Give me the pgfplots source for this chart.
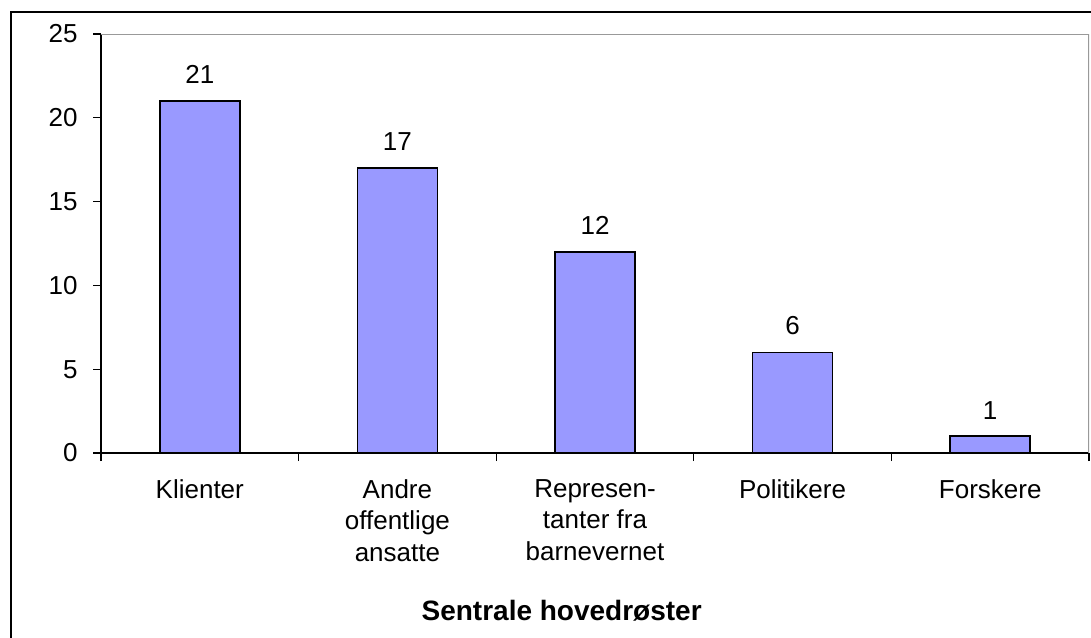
\documentclass[border=0pt]{standalone}
\usepackage{pgfplots}
\pgfplotsset{compat=1.18}
\usepackage{fontspec}
\setmainfont{Liberation Sans}
\definecolor{barfill}{HTML}{9999FF}

\begin{document}
\begin{tikzpicture}
% page is 1091 x 637 px at 0.75pt per px
\useasboundingbox (0pt,0pt) rectangle (818.25pt,477.75pt);
\draw[line width=1.2pt] (8.25pt,-5pt) -- (8.25pt,468.75pt) -- (830pt,468.75pt);
\begin{axis}[
    at={(75.75pt,138pt)},
    anchor=south west,
    scale only axis,
    width=741pt,
    height=314.25pt,
    ybar,
    bar width=60pt,
    xmin=-0.5, xmax=4.5,
    ymin=0, ymax=25,
    ytick={0,5,...,25},
    xtick={0,1,2,3,4},
    xticklabels={Klienter,{Andre\\offentlige\\ansatte},{Represen-\\tanter fra\\barnevernet},Politikere,Forskere},
    minor xtick={-0.5,0.5,...,4.5},
    major x tick style={draw=none},
    tick align=outside,
    major tick length=6pt,
    minor tick length=6pt,
    axis x line*=bottom,
    axis y line*=left,
    axis line style={line width=0.9pt, -},
    tick style={line width=0.9pt, black},
    ticklabel style={font=\fontsize{19.5}{23.5}\selectfont},
    xticklabel style={align=center, yshift=-10.5pt},
    yticklabel style={xshift=-8pt},
    /pgf/number format/assume math mode=true,
    xlabel={\textbf{Sentrale hovedrøster}},
    xlabel style={font=\fontsize{21}{25}\selectfont, yshift=-22pt, xshift=-25pt},
    nodes near coords,
    nodes near coords style={font=\fontsize{19.5}{23}\selectfont, yshift=9pt, black},
]
\addplot[fill=barfill, draw=black, line width=1.2pt] coordinates {
    (0,21) (1,17) (2,12) (3,6) (4,1)
};
\draw[gray!80, line width=0.9pt] (rel axis cs:0,1) -- (rel axis cs:1,1) -- (rel axis cs:1,0);
\end{axis}
\end{tikzpicture}
\end{document}
